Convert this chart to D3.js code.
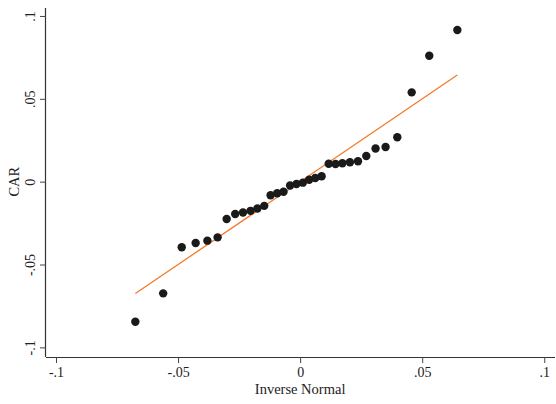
<!DOCTYPE html>
<html>
<head>
<meta charset="utf-8">
<script src="https://cdn.jsdelivr.net/npm/d3@7"></script>
<style>
  html, body { margin: 0; padding: 0; background: #fff; }
  svg { display: block; }
  text { font-family: "Liberation Serif", "Times New Roman", serif; fill: #222; }
</style>
</head>
<body>
<svg id="chart" width="556" height="404"></svg>
<script>
// Normal quantile plot of CAR: inverse-normal quantiles vs. observed CAR
const inverseNormal = [
  -0.0675, -0.0561, -0.0485, -0.0428, -0.0380, -0.0338, -0.0301, -0.0266,
  -0.0234, -0.0203, -0.0175, -0.0147, -0.0121, -0.0094, -0.0068, -0.0041,
  -0.0015, 0.0011, 0.0037, 0.0062, 0.0088, 0.0117, 0.0145, 0.0173,
  0.0204, 0.0237, 0.0271, 0.0309, 0.0350, 0.0398, 0.0457, 0.0529, 0.0644
];
const car = [
  -0.0845, -0.0674, -0.0396, -0.0370, -0.0356, -0.0336, -0.0225, -0.0195,
  -0.0186, -0.0176, -0.0162, -0.0146, -0.0082, -0.0070, -0.0061, -0.0023,
  -0.0014, -0.0006, 0.0012, 0.0022, 0.0033, 0.0108, 0.0107, 0.0111,
  0.0117, 0.0123, 0.0155, 0.0200, 0.0209, 0.0268, 0.0539, 0.0760, 0.0915
];
const xTicks = [-0.1, -0.05, 0, 0.05, 0.1];
const yTicks = [-0.1, -0.05, 0, 0.05, 0.1];
const tickLabels = ["-.1", "-.05", "0", ".05", ".1"];

const svg = d3.select("#chart");
const plotLeft = 46, plotRight = 555, plotTop = 8, plotBottom = 357;

const x = d3.scaleLinear().domain([-0.1041, 0.1044]).range([plotLeft, plotRight]);
const y = d3.scaleLinear().domain([-0.1058, 0.1048]).range([plotBottom, plotTop]);

// x axis
const gx = svg.append("g").attr("transform", `translate(0,${plotBottom})`)
  .call(d3.axisBottom(x).tickValues(xTicks).tickSize(6).tickPadding(4)
    .tickFormat(d => tickLabels[xTicks.indexOf(d)]).tickSizeOuter(0));
gx.select(".domain").attr("stroke", "#333").attr("stroke-width", 1.2)
  .attr("d", `M${plotLeft},0.5H${plotRight}`);
gx.selectAll(".tick line").attr("stroke", "#444").attr("stroke-width", 1);
gx.selectAll(".tick text").attr("font-size", 14).attr("fill", "#222")
  .attr("font-family", "Liberation Serif, serif");

// y axis
const gy = svg.append("g").attr("transform", `translate(${plotLeft},0)`)
  .call(d3.axisLeft(y).tickValues(yTicks).tickSize(6).tickPadding(4)
    .tickFormat(d => tickLabels[yTicks.indexOf(d)]).tickSizeOuter(0));
gy.select(".domain").attr("stroke", "#333").attr("stroke-width", 1.2)
  .attr("d", `M-0.5,${plotTop}V${plotBottom}`);
gy.selectAll(".tick line").attr("stroke", "#444").attr("stroke-width", 1);
gy.selectAll(".tick text")
  .attr("font-size", 14).attr("fill", "#222")
  .attr("font-family", "Liberation Serif, serif")
  .attr("x", null).attr("dy", null)
  .attr("text-anchor", "middle")
  .attr("transform", "translate(-11.5,0) rotate(-90)");

// axis titles
svg.append("text")
  .attr("x", x(0)).attr("y", 394)
  .attr("text-anchor", "middle").attr("font-size", 14.5)
  .text("Inverse Normal");
svg.append("text")
  .attr("transform", `translate(19,${y(0)}) rotate(-90)`)
  .attr("text-anchor", "middle").attr("font-size", 14.5)
  .text("CAR");

// reference line y = x over the range of the quantiles
const ext = d3.extent(inverseNormal);
svg.append("line")
  .attr("x1", x(ext[0])).attr("y1", y(ext[0]))
  .attr("x2", x(ext[1])).attr("y2", y(ext[1]))
  .attr("stroke", "#f47a2a").attr("stroke-width", 1.3);

// observations
const pts = inverseNormal.map((v, i) => ({ x: v, y: car[i] }));
svg.append("g").selectAll("circle").data(pts).join("circle")
  .attr("cx", d => x(d.x)).attr("cy", d => y(d.y))
  .attr("r", 4.2).attr("fill", "#1a1a1a");
</script>
</body>
</html>
